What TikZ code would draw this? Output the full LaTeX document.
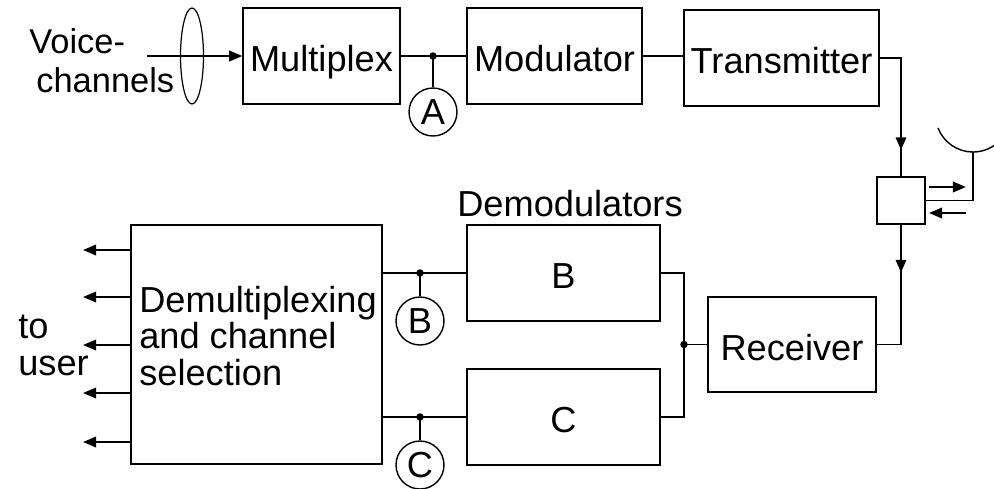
\documentclass[tikz,border=0pt]{standalone}
\usepackage{fontspec}
\setmainfont{Liberation Sans}
\usetikzlibrary{arrows.meta,shapes.geometric,decorations.markings,calc}
\begin{document}
\begin{tikzpicture}[x=0.02cm,y=-0.02cm,
  every node/.style={font=\fontsize{20.6}{20.7}\selectfont},
  blk/.style={draw, line width=0.8pt, inner sep=0pt, text height=18pt, text depth=0pt},
  lbl/.style={inner sep=0pt, align=left},
  wire/.style={line width=0.8pt},
  arr/.style={line width=1.2pt, -{Triangle[length=7.5pt,width=6pt]}},
  tap/.style={draw, circle, line width=0.8pt, minimum size=0.96cm, inner sep=0pt},
  jdot/.style={circle, fill, inner sep=0pt, minimum size=0.15cm},
  midarrow/.style={postaction={decorate}, decoration={markings, mark=at position #1 with {\arrow{Triangle[length=7pt,width=6pt]}}}},
]
\useasboundingbox (0,0) rectangle (994,488);

% top row
\node[blk, minimum width=3.14cm, minimum height=1.92cm] (mux) at (321.5,56) {Multiplex};
\node[blk, minimum width=3.5cm, minimum height=1.92cm] (mod) at (554.5,56) {Modulator};
\node[blk, minimum width=3.9cm, minimum height=1.92cm] (tx) at (781.5,58) {Transmitter};
\node[draw, line width=0.8pt, inner sep=0pt, minimum width=0.96cm, minimum height=0.94cm] (dup) at (901,200.5) {};

\node[lbl, anchor=base west, font=\fontsize{19.6}{22}\selectfont] (voice) at (29,92) {Voice-\\\hspace*{0.14cm}channels};
\node[draw, ellipse, line width=0.7pt, minimum width=0.46cm, minimum height=1.92cm, inner sep=0pt] (bund) at (192,56) {};
\coordinate (vin) at (147,56);
\draw[arr] (vin) -- (mux.west);

\coordinate (jA) at (433,56);
\node[tap] (cA) at (433,112) {A};
\draw[wire] (mux.east) -- (mod.west);
\node[jdot] (dA) at (jA) {};
\draw[wire] (jA) -- (cA.north);
\draw[wire] (mod.east) -- (mod.east -| tx.west);
\draw[wire, midarrow=0.81] (tx.east) -| (dup.north);

% antenna
\coordinate (ant) at (973,152);
\draw[wire] (ant) arc[start angle=270, end angle=201, radius=0.75cm];
\draw[wire] (ant) arc[start angle=270, end angle=310, radius=0.75cm];
\draw[wire] (ant) |- (dup.east);
\coordinate (r1) at (929,187);
\coordinate (r2) at (966,187);
\coordinate (l1) at (966,213);
\coordinate (l2) at (929,213);
\draw[arr] (r1) -- (r2);
\draw[arr] (l1) -- (l2);

% bottom row
\node[draw, line width=0.8pt, inner sep=0pt, minimum width=5.02cm, minimum height=4.78cm] (demux) at (256.5,344.5) {};
\node[lbl, anchor=base west] (dmtxt) at (139,385) {Demultiplexing\\and channel\\selection};
\node[lbl, anchor=base west, font=\fontsize{20.6}{21}\selectfont] (touser) at (18,375) {to\\user};
\node[blk, minimum width=3.86cm, minimum height=1.92cm] (demB) at (563.5,273) {B};
\node[blk, minimum width=3.86cm, minimum height=1.92cm] (demC) at (563.5,417) {C};
\node[lbl, anchor=base west] (demlab) at (457,216) {Demodulators};
\node[blk, minimum width=3.36cm, minimum height=1.9cm] (rx) at (792,344.5) {Receiver};

\draw[wire, midarrow=0.33] (dup.south) |- (rx.east);

\foreach \i/\yy in {1/250,2/297,3/345,4/393,5/442}{
  \coordinate (u\i) at (83,\yy);
  \draw[arr] (demux.west |- u\i) -- (u\i);
}

\coordinate (jB) at (420,273);
\coordinate (jC) at (420,417);
\node[tap] (cB) at (420,321) {B};
\node[tap] (cC) at (420,465) {C};
\draw[wire] (demux.east |- demB.west) -- (demB.west);
\draw[wire] (demux.east |- demC.west) -- (demC.west);
\node[jdot] (dB) at (jB) {};
\node[jdot] (dC) at (jC) {};
\draw[wire] (jB) -- (cB.north);
\draw[wire] (jC) -- (cC.north);

\coordinate (jR) at (684,344.5);
\draw[wire] (demB.east) -| (jR) |- (demC.east);
\draw[wire] (jR) -- (rx.west);
\node[jdot] (dR) at (jR) {};
\end{tikzpicture}
\end{document}
